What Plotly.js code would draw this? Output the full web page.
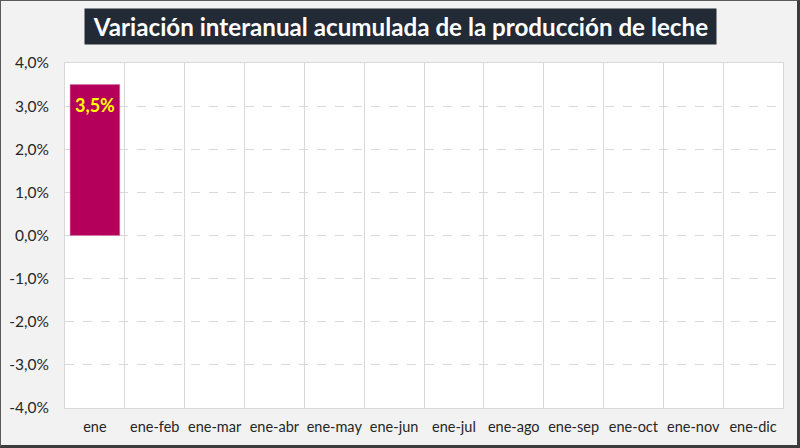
<!DOCTYPE html>
<html>
<head>
<meta charset="utf-8">
<script src="https://cdn.plot.ly/plotly-3.0.1.min.js"></script>
<style>
html,body{margin:0;padding:0;background:#F2F2F2;}
#wrap{position:relative;width:800px;height:448px;}
#frame{position:absolute;left:0;top:0;width:800px;height:448px;box-sizing:border-box;
border-left:1px solid #5a5a5a;border-top:1px solid #5a5a5a;border-right:3px solid #3c3c3c;border-bottom:3px solid #3c3c3c;pointer-events:none;}
</style>
</head>
<body>
<div id="wrap"><div id="chart"></div><div id="frame"></div></div>
<script>
const categories = ["ene","ene-feb","ene-mar","ene-abr","ene-may","ene-jun","ene-jul","ene-ago","ene-sep","ene-oct","ene-nov","ene-dic"];
const values = [0.035, null, null, null, null, null, null, null, null, null, null, null];
const labelText = ["3,5%"];
const titleText = "Variación interanual acumulada de la producción de leche";
const yTicks = [-0.04,-0.03,-0.02,-0.01,0,0.01,0.02,0.03,0.04];
const yTickLabels = ["-4,0%","-3,0%","-2,0%","-1,0%","0,0%","1,0%","2,0%","3,0%","4,0%"];

const FONT = "Lato, 'Open Sans', sans-serif";
const L = 65, R = 17, T = 63, B = 40, W = 800, H = 448;
const plotW = W - L - R, plotH = H - T - B;

const trace = {
  type: 'bar', x: categories, y: values,
  marker: {color: '#B5005B', line: {color: '#D67BA6', width: 0.5}},
  hoverinfo: 'skip'
};

const annotations = [];
values.forEach((v, i) => {
  if (v !== null && labelText[i]) {
    annotations.push({x: categories[i], y: v, xref: 'x', yref: 'y', text: '<b>' + labelText[i] + '</b>',
      showarrow: false, yanchor: 'top', yshift: -7, font: {family: FONT, size: 18, color: '#FFFF00'}});
  }
});
annotations.push({
  xref: 'paper', yref: 'paper', x: (400 - L) / plotW, y: 1 + (T - 26.5) / plotH,
  xanchor: 'center', yanchor: 'middle', text: '<b>' + titleText + '</b>', showarrow: false,
  bgcolor: '#222A35', width: 631, height: 35, borderpad: 0,
  font: {family: FONT, size: 24.2, color: '#FFFFFF'}
});

const layout = {
  width: W, height: H,
  margin: {l: L, r: R, t: T, b: B, pad: 0},
  paper_bgcolor: '#F2F2F2', plot_bgcolor: '#FFFFFF',
  separators: ',.',
  showlegend: false,
  bargap: 0.17,
  font: {family: FONT, color: '#262626'},
  xaxis: {
    type: 'category', categoryarray: categories, tickson: 'boundaries',
    showgrid: true, gridcolor: '#D9D9D9', gridwidth: 1,
    showline: true, mirror: true, linecolor: '#D9D9D9', linewidth: 1,
    ticks: '', tickangle: 0, automargin: false,
    tickfont: {family: FONT, size: 14.5, color: '#262626'}, ticklabelstandoff: 6,
    fixedrange: true
  },
  yaxis: {
    range: [-0.04, 0.04], tickvals: yTicks, ticktext: yTickLabels,
    showgrid: true, gridcolor: '#D9D9D9', griddash: 'dash', gridwidth: 1,
    zeroline: false,
    showline: true, mirror: true, linecolor: '#D9D9D9', linewidth: 1,
    ticks: '', tickfont: {family: FONT, size: 15.5, color: '#262626'}, ticklabelstandoff: 12,
    fixedrange: true
  },
  annotations: annotations
};

Plotly.newPlot('chart', [trace], layout, {displayModeBar: false, staticPlot: true});
</script>
</body>
</html>
